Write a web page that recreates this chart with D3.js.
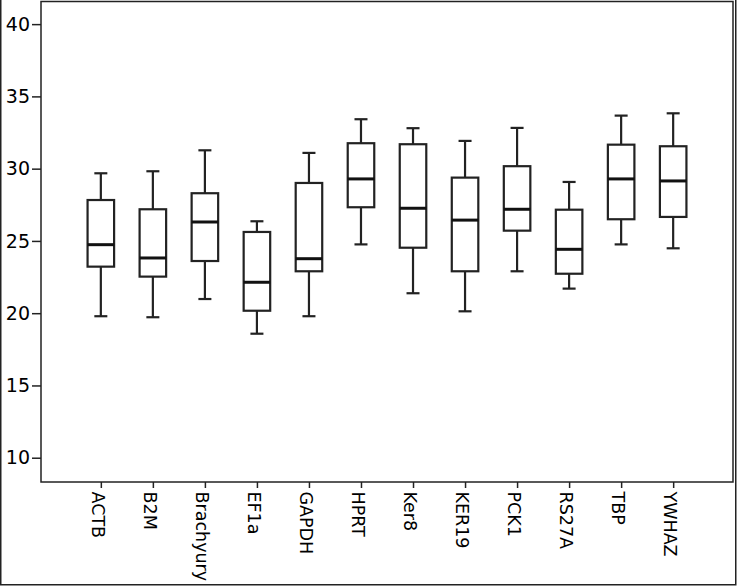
<!DOCTYPE html>
<html>
<head>
<meta charset="utf-8">
<script src="https://cdn.jsdelivr.net/npm/d3@7"></script>
<style>
  body { margin: 0; background: #fff; }
  svg { display: block; font-family: "DejaVu Sans", sans-serif; }
</style>
</head>
<body>
<svg id="chart"></svg>
<script>
// gene names and box stats
var genes = ["ACTB", "B2M", "Brachyury", "EF1a", "GAPDH", "HPRT", "Ker8", "KER19", "PCK1", "RS27A", "TBP", "YWHAZ"];
var whiskerLow  = [19.79, 19.72, 20.98, 18.58, 19.79, 24.76, 21.38, 20.13, 22.90, 21.70, 24.76, 24.49];
var q1          = [23.22, 22.53, 23.61, 20.17, 22.90, 27.33, 24.53, 22.90, 25.71, 22.73, 26.50, 26.66];
var medians     = [24.74, 23.82, 26.31, 22.14, 23.77, 29.29, 27.26, 26.44, 27.19, 24.42, 29.29, 29.15];
var q3          = [27.83, 27.19, 28.30, 25.62, 29.01, 31.76, 31.69, 29.38, 30.17, 27.16, 31.66, 31.55];
var whiskerHigh = [29.68, 29.82, 31.27, 26.36, 31.09, 33.42, 32.80, 31.92, 32.82, 29.08, 33.67, 33.83];
var yTicks = [10, 15, 20, 25, 30, 35, 40];

var W = 737, H = 586;
var plot = {left: 41, right: 733, top: 1.5, bottom: 482};
var ink = "#222";

var svg = d3.select("#chart").attr("width", W).attr("height", H);

var x = d3.scalePoint().domain(genes).range([plot.left, plot.right]).padding(1.15);
var y = d3.scaleLinear().domain([8.32, 41.6]).range([plot.bottom, 1]);

var data = genes.map(function(g, i) {
  return {name: g, lo: whiskerLow[i], q1: q1[i], med: medians[i], q3: q3[i], hi: whiskerHigh[i]};
});

// outer frame (top edge is cut off in the original)
svg.append("path")
    .attr("d", "M0.75,0 V584.75 H735.75 V0")
    .attr("fill", "none")
    .attr("stroke", ink)
    .attr("stroke-width", 1.5);

// y axis
var yAxis = svg.append("g")
    .attr("transform", "translate(" + plot.left + ",0)")
    .call(d3.axisLeft(y).tickValues(yTicks).tickSize(9).tickPadding(2));
yAxis.select(".domain").remove();
yAxis.selectAll("line").attr("stroke", ink).attr("stroke-width", 1.5);
yAxis.selectAll("text").attr("fill", "#000").style("font-size", "19px")
    .style("font-family", "DejaVu Sans, sans-serif");

// x axis
var xAxis = svg.append("g")
    .attr("transform", "translate(0," + plot.bottom + ")")
    .call(d3.axisBottom(x).tickSize(6));
xAxis.select(".domain").remove();
xAxis.selectAll("line").attr("stroke", ink).attr("stroke-width", 1.5);
xAxis.selectAll("text")
    .attr("transform", "rotate(90)")
    .attr("x", 9.5)
    .attr("y", 0)
    .attr("dy", "0.55em")
    .attr("text-anchor", "start")
    .attr("fill", "#000")
    .style("font-size", "17.5px")
    .style("font-family", "DejaVu Sans, sans-serif");

// plot frame
svg.append("rect")
    .attr("x", plot.left)
    .attr("y", plot.top)
    .attr("width", plot.right - plot.left)
    .attr("height", plot.bottom - plot.top)
    .attr("fill", "none")
    .attr("stroke", ink)
    .attr("stroke-width", 1.5);

var boxW = x.step() * 0.51;
var capW = 13;

var boxes = svg.append("g").selectAll("g")
    .data(data)
    .enter()
    .append("g")
    .attr("transform", function(d) { return "translate(" + x(d.name) + ",0)"; });

// whiskers
boxes.append("line")
    .attr("x1", 0).attr("x2", 0)
    .attr("y1", function(d) { return y(d.hi); })
    .attr("y2", function(d) { return y(d.q3); })
    .attr("stroke", ink).attr("stroke-width", 2.2);
boxes.append("line")
    .attr("x1", 0).attr("x2", 0)
    .attr("y1", function(d) { return y(d.q1); })
    .attr("y2", function(d) { return y(d.lo); })
    .attr("stroke", ink).attr("stroke-width", 2.2);

// caps
boxes.append("line")
    .attr("x1", -capW / 2).attr("x2", capW / 2)
    .attr("y1", function(d) { return y(d.hi); })
    .attr("y2", function(d) { return y(d.hi); })
    .attr("stroke", ink).attr("stroke-width", 2.2);
boxes.append("line")
    .attr("x1", -capW / 2).attr("x2", capW / 2)
    .attr("y1", function(d) { return y(d.lo); })
    .attr("y2", function(d) { return y(d.lo); })
    .attr("stroke", ink).attr("stroke-width", 2.2);

// boxes
boxes.append("rect")
    .attr("x", -boxW / 2)
    .attr("width", boxW)
    .attr("y", function(d) { return y(d.q3); })
    .attr("height", function(d) { return y(d.q1) - y(d.q3); })
    .attr("fill", "#fff")
    .attr("stroke", ink)
    .attr("stroke-width", 2.2);

// medians
boxes.append("line")
    .attr("x1", -boxW / 2).attr("x2", boxW / 2)
    .attr("y1", function(d) { return y(d.med); })
    .attr("y2", function(d) { return y(d.med); })
    .attr("stroke", "#111").attr("stroke-width", 3);
</script>
</body>
</html>
